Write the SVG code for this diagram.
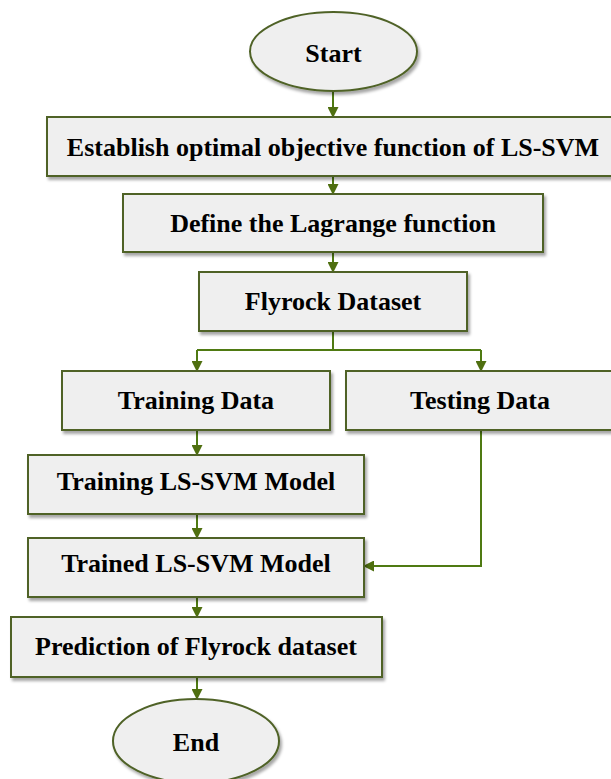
<svg xmlns="http://www.w3.org/2000/svg" width="611" height="779" viewBox="0 0 611 779">
<defs>
<filter id="sh" x="-10%" y="-10%" width="130%" height="140%">
<feDropShadow dx="2" dy="3" stdDeviation="1.5" flood-color="#000" flood-opacity="0.35"/>
</filter>
<marker id="ah" markerWidth="11" markerHeight="11" refX="10" refY="5.5" orient="auto" markerUnits="userSpaceOnUse">
<path d="M0,0 L11,5.5 L0,11 Z" fill="#4f6f10"/>
</marker>
</defs>
<style>
.box{fill:#efefef;stroke:#4f6228;stroke-width:2;filter:url(#sh)}
.t{font-family:"Liberation Serif","Times New Roman",serif;font-weight:bold;font-size:26px;fill:#000;text-anchor:middle;dominant-baseline:central}
.c{fill:none;stroke:#4f7a12;stroke-width:2;marker-end:url(#ah)}
.l{fill:none;stroke:#4f7a12;stroke-width:2}
</style>
<rect width="611" height="779" fill="#fff"/>
<g id="connectors">
<path class="c" d="M333,91 V117"/>
<path class="c" d="M333,176 V194"/>
<path class="c" d="M333,252 V272"/>
<path class="l" d="M333,331 V350 M197,350 H481"/>
<path class="c" d="M197,350 V371"/>
<path class="c" d="M481,350 V371"/>
<path class="c" d="M197,430 V455"/>
<path class="c" d="M197,514 V538"/>
<path class="c" d="M481,430 V566 H364"/>
<path class="c" d="M197,597 V617"/>
<path class="c" d="M197,677 V699"/>
</g>
<g id="start"><ellipse class="box" cx="333.5" cy="51.5" rx="83.5" ry="39.5"/><text class="t" x="333.5" y="53">Start</text></g>
<g id="establish"><rect class="box" x="47" y="117" width="565" height="59"/><text class="t" x="333" y="147">Establish optimal objective function of LS-SVM</text></g>
<g id="lagrange"><rect class="box" x="123" y="194" width="420" height="58"/><text class="t" x="333" y="223">Define the Lagrange function</text></g>
<g id="dataset"><rect class="box" x="199" y="272" width="268" height="59"/><text class="t" x="333" y="301">Flyrock Dataset</text></g>
<g id="training"><rect class="box" x="62" y="371" width="268" height="59"/><text class="t" x="196" y="400">Training Data</text></g>
<g id="testing"><rect class="box" x="346" y="371" width="270" height="59"/><text class="t" x="480" y="400">Testing Data</text></g>
<g id="trainmodel"><rect class="box" x="28" y="455" width="336" height="59"/><text class="t" x="196" y="481">Training LS-SVM Model</text></g>
<g id="trained"><rect class="box" x="28" y="538" width="336" height="59"/><text class="t" x="196" y="563">Trained LS-SVM Model</text></g>
<g id="prediction"><rect class="box" x="11" y="617" width="371" height="60"/><text class="t" x="196" y="646">Prediction of Flyrock dataset</text></g>
<g id="end"><ellipse class="box" cx="196" cy="741" rx="83" ry="42"/><text class="t" x="196" y="742">End</text></g>
</svg>
